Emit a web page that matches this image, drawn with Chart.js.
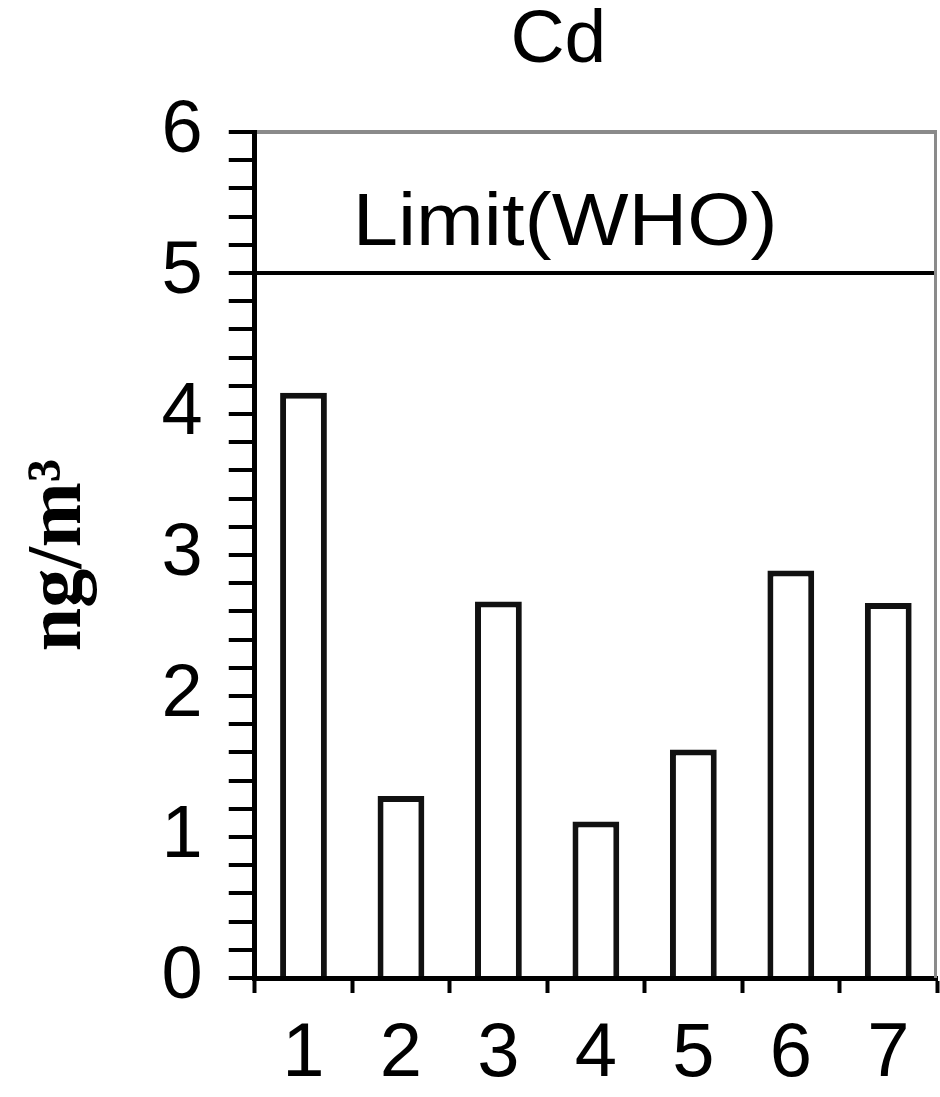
<!DOCTYPE html>
<html>
<head>
<meta charset="utf-8">
<title>Cd</title>
<script src="https://cdn.jsdelivr.net/npm/chart.js@4/dist/chart.umd.min.js"></script>
<style>
    html, body { margin: 0; padding: 0; background: #fff; }
    #wrap { width: 940px; height: 1097px; }
</style>
</head>
<body>
<div id="wrap"><canvas id="cdChart"></canvas></div>
<script>
// data
const sites = ['1', '2', '3', '4', '5', '6', '7'];
const cdValues = [4.15, 1.29, 2.67, 1.11, 1.62, 2.89, 2.66];
const majorTicks = [0, 1, 2, 3, 4, 5, 6];
const limitValue = 5;
const limitLabel = 'Limit(WHO)';
const chartTitle = 'Cd';
const yTitle = 'ng/m\u00b3';

function isMajor(v) {
    return majorTicks.some(t => Math.abs(t - v) < 1e-6);
}

// title, limit label and right frame edge
const extras = {
    id: 'extras',
    afterDraw(chart) {
        const ctx = chart.ctx;
        const area = chart.chartArea;
        const y = chart.scales.y;
        const w = area.right - area.left;
        ctx.save();
        // right border
        ctx.strokeStyle = '#8a8a8a';
        ctx.lineWidth = 3;
        ctx.beginPath();
        ctx.moveTo(area.right - 1.5, area.top);
        ctx.lineTo(area.right - 1.5, area.bottom);
        ctx.stroke();

        ctx.fillStyle = '#000';
        ctx.textAlign = 'center';
        ctx.textBaseline = 'alphabetic';
        ctx.font = '75px "Liberation Sans", Arial, sans-serif';
        ctx.fillText(chartTitle, area.left + w * 0.445, 62);

        // limit label, a little wider than the font
        ctx.translate(area.left + w * 0.455, y.getPixelForValue(limitValue) - 28);
        ctx.scale(1.1, 1);
        ctx.font = '74px "Liberation Sans", Arial, sans-serif';
        ctx.fillText(limitLabel, 0, 0);
        ctx.restore();
    }
};

new Chart(document.getElementById('cdChart'), {
    type: 'bar',
    data: {
        labels: sites,
        datasets: [{
            data: cdValues,
            backgroundColor: '#ffffff',
            borderColor: '#111111',
            borderWidth: 6,
            borderSkipped: 'bottom',
            barPercentage: 0.48,
            categoryPercentage: 1
        }]
    },
    options: {
        responsive: true,
        maintainAspectRatio: false,
        animation: false,
        devicePixelRatio: 1,
        layout: {
            padding: { top: 132, right: 3, bottom: -20, left: 0 }
        },
        plugins: {
            legend: { display: false },
            tooltip: { enabled: false }
        },
        scales: {
            x: {
                grid: {
                    drawOnChartArea: false,
                    tickLength: 15,
                    tickColor: '#000',
                    tickWidth: 4
                },
                border: { color: '#000', width: 5 },
                ticks: {
                    color: '#000',
                    padding: 24,
                    maxRotation: 0,
                    font: { family: '"Liberation Sans", Arial, sans-serif', size: 76, lineHeight: 1 }
                }
            },
            y: {
                min: 0,
                max: 6,
                grid: {
                    drawOnChartArea: true,
                    tickLength: 26,
                    tickColor: '#000',
                    tickWidth: 4,
                    color: c => {
                        if (!c.tick) return 'rgba(0,0,0,0)';
                        if (Math.abs(c.tick.value - limitValue) < 1e-6) return '#000';
                        if (Math.abs(c.tick.value - 6) < 1e-6) return '#8a8a8a';
                        return 'rgba(0,0,0,0)';
                    },
                    lineWidth: 4
                },
                border: { color: '#000', width: 5 },
                ticks: {
                    stepSize: 0.2,
                    autoSkip: false,
                    color: '#000',
                    padding: 26,
                    font: { family: '"Liberation Sans", Arial, sans-serif', size: 74, lineHeight: 1 },
                    callback: v => isMajor(v) ? String(Math.round(v)) : ''
                },
                title: {
                    display: true,
                    text: yTitle,
                    color: '#000',
                    padding: { top: 13, bottom: 29 },
                    font: { family: '"Liberation Serif", "Times New Roman", serif', size: 78, weight: 'bold', lineHeight: 1.2 }
                }
            }
        }
    },
    plugins: [extras]
});
</script>
</body>
</html>
